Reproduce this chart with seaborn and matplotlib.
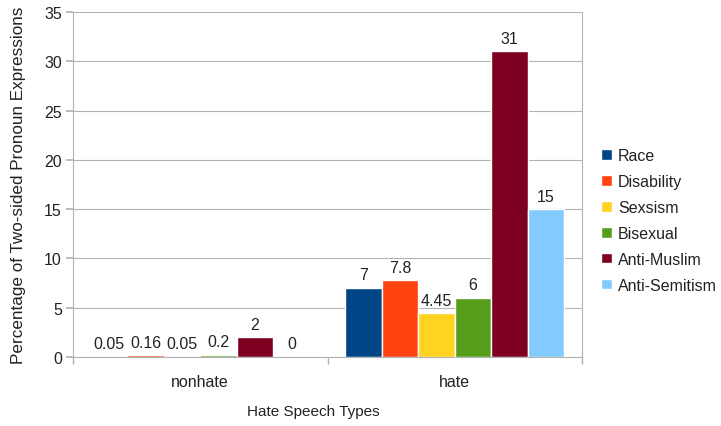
import matplotlib
matplotlib.use("Agg")
import matplotlib.pyplot as plt
import seaborn as sns
import pandas as pd

groups = ["nonhate", "hate"]
types = ["Race", "Disability", "Sexsism", "Bisexual", "Anti-Muslim", "Anti-Semitism"]
nonhate_vals = [0.05, 0.16, 0.05, 0.2, 2, 0]
hate_vals = [7, 7.8, 4.45, 6, 31, 15]
nonhate_labels = ["0.05", "0.16", "0.05", "0.2", "2", "0"]
hate_labels = ["7", "7.8", "4.45", "6", "31", "15"]
colors = ["#004586", "#ff420e", "#ffd320", "#579d1c", "#7e0021", "#83caff"]

rows = []
for t, v in zip(types, nonhate_vals):
    rows.append({"group": "nonhate", "type": t, "value": v})
for t, v in zip(types, hate_vals):
    rows.append({"group": "hate", "type": t, "value": v})
df = pd.DataFrame(rows)

sns.set_theme(style="white")
plt.rcParams['font.family'] = ['Liberation Sans', 'DejaVu Sans']

FS = 11.5
fig = plt.figure(figsize=(7.21, 4.27), dpi=100)
ax = fig.add_axes([73/721, 1-358/427, (582-73)/721, (358-13)/427])

sns.barplot(data=df, x="group", y="value", hue="type", order=groups, hue_order=types,
            palette=colors, width=0.86, saturation=1, ax=ax, legend=True, errorbar=None)

for i, cont in enumerate(ax.containers):
    labs = [nonhate_labels[i], hate_labels[i]]
    ax.bar_label(cont, labels=labs, padding=4, fontsize=FS, color="#222222")

ax.set_ylim(0, 35)
ax.set_yticks(range(0, 36, 5))
ax.set_xlim(-0.5, 1.5)
ax.yaxis.grid(True, color="#b3b3b3", linewidth=0.8)
ax.set_axisbelow(True)
ax.spines["top"].set_visible(False)
for s in ["left", "bottom", "right"]:
    ax.spines[s].set_color("#b3b3b3")
    ax.spines[s].set_linewidth(0.8)
ax.tick_params(axis="y", left=True, length=5, color="#b3b3b3", labelsize=FS, labelcolor="#222222", pad=3)
ax.set_xticks([0, 1])
ax.set_xticklabels(groups)
ax.set_xticks([-0.5, 0.5, 1.5], minor=True)
ax.tick_params(axis="x", which="major", length=0, labelsize=FS, labelcolor="#222222", pad=12)
ax.tick_params(axis="x", which="minor", bottom=True, length=5, color="#b3b3b3")

ax.set_xlabel("Hate Speech Types", fontsize=11, color="#222222")
ax.xaxis.set_label_coords(0.4715, -0.137)
ax.set_ylabel("Percentage of Two-sided Pronoun Expressions", fontsize=12.3, color="#222222", labelpad=13)

leg = ax.legend(loc="center left", bbox_to_anchor=(1.01, 0.396), frameon=False,
                fontsize=FS, handlelength=0.65, handleheight=0.65, handletextpad=0.4,
                labelspacing=0.68)
for t in leg.get_texts():
    t.set_color("#222222")

fig.savefig("out.png", dpi=100)
